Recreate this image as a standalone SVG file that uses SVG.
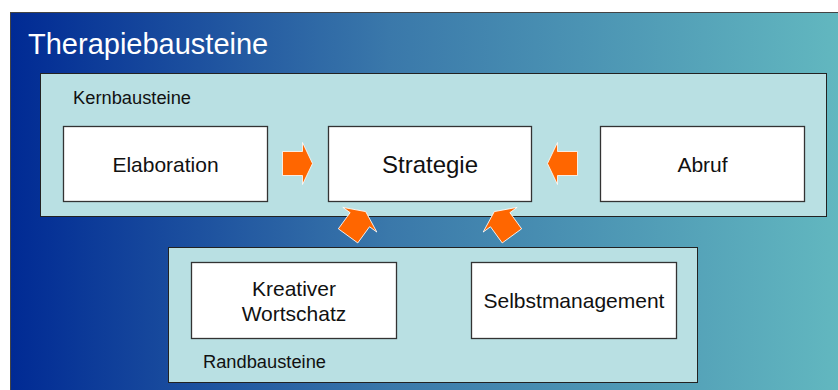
<svg xmlns="http://www.w3.org/2000/svg" width="838" height="390" viewBox="0 0 838 390">
<defs>
<linearGradient id="bg" x1="0" y1="0" x2="1" y2="0">
<stop offset="0" stop-color="#002a94"/>
<stop offset="0.45" stop-color="#3a78aa"/>
<stop offset="1" stop-color="#63b9c0"/>
</linearGradient>
<path id="arr" d="M0,0 L-10,-21 L-10,-12 L-30,-12 L-30,12 L-10,12 L-10,21 Z"/>
</defs>
<style>
.panel{fill:#b9e0e3;stroke:#222;stroke-width:1}
.box{fill:#fff;stroke:#333;stroke-width:1.3}
.lbl{font-family:"Liberation Sans",Arial,sans-serif;font-size:17.5px;fill:#111}
.t{font-family:"Liberation Sans",Arial,sans-serif;font-size:21px;fill:#111;text-anchor:middle}
.big{font-size:24px}
.a{fill:#ff6600;stroke:#fff;stroke-width:0.8}
</style>
<rect width="838" height="390" fill="#fff"/>
<g id="background">
<rect x="10.5" y="12.5" width="840" height="390" fill="url(#bg)" stroke="#444" stroke-width="1"/>
<text x="28" y="53.5" font-family="'Liberation Sans',Arial,sans-serif" font-size="29" fill="#fff">Therapiebausteine</text>
</g>
<g id="kern">
<rect class="panel" x="40.5" y="73.5" width="786" height="143"/>
<text class="lbl" x="73" y="104" textLength="118" lengthAdjust="spacingAndGlyphs">Kernbausteine</text>
</g>
<g id="rand">
<rect class="panel" x="168.5" y="247.5" width="529" height="135"/>
<text class="lbl" x="203" y="368" textLength="123" lengthAdjust="spacingAndGlyphs">Randbausteine</text>
</g>
<g id="elaboration">
<rect class="box" x="63.5" y="126.5" width="204" height="75"/>
<text class="t" x="165.5" y="172">Elaboration</text>
</g>
<g id="strategie">
<rect class="box" x="328.5" y="126.5" width="203" height="75"/>
<text class="t big" x="430" y="173">Strategie</text>
</g>
<g id="abruf">
<rect class="box" x="600.5" y="126.5" width="204" height="75"/>
<text class="t" x="702.5" y="172">Abruf</text>
</g>
<g id="kreativer">
<rect class="box" x="191.5" y="262.5" width="205" height="76"/>
<text class="t" x="294" y="296">Kreativer</text>
<text class="t" x="294" y="321">Wortschatz</text>
</g>
<g id="selbstmanagement">
<rect class="box" x="471.5" y="262.5" width="205" height="76"/>
<text class="t" x="574" y="308">Selbstmanagement</text>
</g>
<g id="connectors">
<use href="#arr" class="a" transform="translate(312.5,163.5)"/>
<use href="#arr" class="a" transform="translate(547.5,163.5) rotate(180)"/>
<use href="#arr" class="a" transform="translate(365.7,211.6) rotate(-54)"/>
<use href="#arr" class="a" transform="translate(494.3,211.6) rotate(-126)"/>
</g>
</svg>
